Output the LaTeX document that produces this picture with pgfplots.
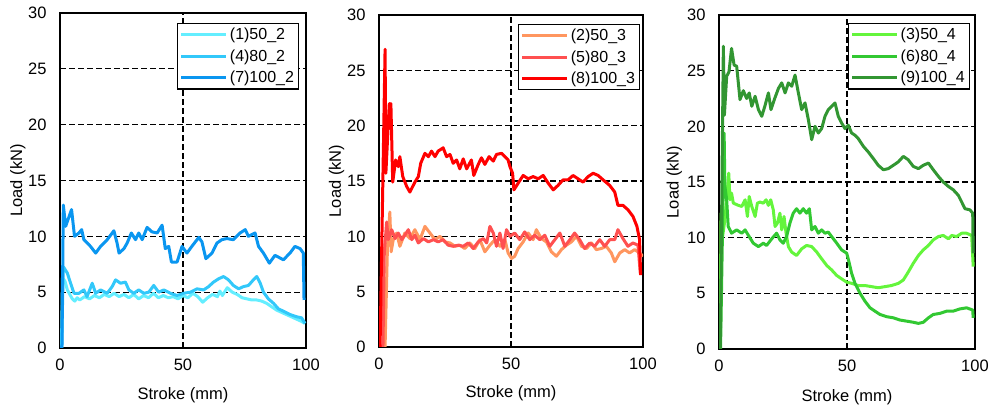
\documentclass[border=0pt]{standalone}
\usepackage{pgfplots}
\pgfplotsset{compat=1.18}
\usepackage{fontspec}
\setmainfont{Liberation Sans}
\definecolor{c1}{RGB}{100,238,255}
\definecolor{c4}{RGB}{50,200,250}
\definecolor{c7}{RGB}{10,150,240}
\definecolor{c2}{RGB}{255,150,95}
\definecolor{c5}{RGB}{255,80,80}
\definecolor{c8}{RGB}{255,0,0}
\definecolor{c3}{RGB}{100,245,60}
\definecolor{c6}{RGB}{50,200,50}
\definecolor{c9}{RGB}{50,150,50}
\pgfplotsset{
 panel/.style={
  scale only axis, anchor=south west,
  xmin=0,xmax=100,ymin=0,ymax=30,
  xtick={0,50,100}, ytick={0,5,...,30},
  grid=major, major grid style={black, line width=1.1bp, dash pattern=on 5.5bp off 3.5bp},
  major tick length=0pt,
  axis line style={black, line width=1.3bp},
  tick label style={font=\fontsize{16.5bp}{19bp}\selectfont},
  /pgf/number format/assume math mode=true,
  xticklabel shift=7bp, yticklabel shift=10bp,
  label style={font=\fontsize{16.5bp}{19bp}\selectfont},
  xlabel={Stroke (mm)}, ylabel={Load (kN)},
  legend style={draw=black, line width=1.3bp, fill=white, font=\fontsize{16bp}{19bp}\selectfont, anchor=north east, inner sep=2.5bp, row sep=4.5bp},
  legend cell align=left,
  legend image code/.code={\draw[##1] (0bp,0bp) -- (45bp,0bp);},
  every axis plot/.append style={line width=3bp, line join=round},
 }
}
\begin{document}
\begin{tikzpicture}
\path[use as bounding box] (0,0) rectangle (992bp,410bp);
% ---------------- Panel 1
\begin{axis}[panel, at={(60bp,62bp)}, width=246bp, height=335bp,
  xlabel style={at={(axis description cs:0.5,-0.140)},anchor=center},
  ylabel style={at={(axis description cs:-0.171,0.5)},anchor=center},
  legend style={at={(0.972,0.970)}}]
\addplot[c1] coordinates {(0,0)(0.6,0)(1,6.3)(2,6.0)(3,5.2)(4,4.8)(5,4.4)(6,4.2)(7,4.5)(8,4.3)(10,4.6)(12,4.4)(14,4.7)(16,4.5)(18,4.8)(20,4.6)(22,4.9)(24,4.6)(26,4.8)(28,4.5)(30,4.8)(32,4.4)(34,4.7)(36,4.5)(38,4.9)(40,4.5)(42,4.7)(44,4.5)(46,4.6)(48,4.4)(50,4.7)(52,4.5)(54,4.9)(56,4.6)(58,4.1)(60,4.5)(62,4.8)(64,4.6)(65,5.1)(66,4.7)(68,5.4)(69,5.2)(70,5.0)(72,4.8)(74,4.5)(76,4.4)(78,4.3)(80,4.3)(82,4.2)(84,4.0)(86,3.7)(88,3.4)(90,3.2)(92,3.0)(94,2.8)(96,2.6)(98,2.4)(99.6,2.2)};
\addlegendentry{(1)50\_2}
\addplot[c4] coordinates {(0,0)(0.7,0)(1.3,7.3)(3,6.7)(4.3,5.8)(5.7,4.9)(7.7,4.9)(9.7,5.2)(11,4.6)(13.1,5.8)(14.5,4.9)(16.5,5.2)(19.2,4.9)(21.2,5.5)(22.6,6.1)(24.6,5.8)(26.6,5.9)(28,5.2)(30,4.9)(32,5.2)(34.1,4.9)(36.1,5.0)(38.1,5.6)(40.1,5.0)(42.2,5.2)(44.9,4.9)(47.6,4.7)(50.3,4.9)(53,5.0)(55.7,5.3)(58.4,5.2)(60.4,5.5)(62.4,5.9)(64.5,6.2)(66.5,6.4)(68.5,6.1)(70.5,5.6)(72.6,5.3)(74.6,5.5)(76.6,5.6)(78.6,6.1)(80,6.4)(81.4,5.8)(82.7,5.0)(84.7,4.4)(86.8,4.0)(88.8,3.5)(90.8,3.3)(93.5,3.0)(96.2,2.8)(98.2,2.7)(99.6,2.2)};
\addlegendentry{(4)80\_2}
\addplot[c7] coordinates {(0,0)(0.8,0)(1.35,12.8)(2.3,10.9)(4.7,12.4)(5.9,10.0)(7.7,10.3)(8.8,10.6)(9.7,9.7)(12.4,9.1)(14.5,8.5)(16.5,9.1)(19.2,9.7)(21.9,10.5)(23.2,9.4)(24,8.5)(26,8.9)(27.3,9.4)(29,10.3)(30.7,9.7)(32,10.3)(33.4,9.7)(35.4,10.8)(37.4,10.4)(39.5,10.3)(41.5,11.0)(42.8,8.9)(44.2,9.1)(45.3,7.7)(47.6,7.7)(49.6,9.1)(51.6,8.5)(53.6,9.1)(56.4,9.9)(57.7,9.5)(59.3,8.0)(61.8,8.5)(63.8,9.4)(65.8,9.7)(67.8,9.8)(70.5,9.7)(73.2,10.3)(75.3,10.6)(76.6,10.0)(79.3,10.3)(80.7,9.1)(82.7,8.5)(85.1,7.6)(87.4,8.3)(90.8,7.9)(93.5,8.5)(95.5,9.1)(97.6,8.9)(98.9,8.5)(99.2,4.3)};
\addlegendentry{(7)100\_2}
\end{axis}
% ---------------- Panel 2
\begin{axis}[panel, at={(379bp,63bp)}, width=264bp, height=332bp,
  xlabel style={at={(axis description cs:0.5,-0.139)},anchor=center},
  ylabel style={at={(axis description cs:-0.161,0.5)},anchor=center},
  legend style={at={(0.989,0.973)}}]
\addplot[c2] coordinates {(0,0)(2.3,0)(3.2,9)(4.1,12.2)(4.6,8.6)(5.4,9.7)(6.7,10.3)(7.9,9.1)(9.8,10.3)(11.7,9.8)(13.6,10.6)(15.5,9.7)(17.4,10.9)(19.3,10.3)(21.2,9.7)(23.1,10.0)(25,9.5)(26.9,9.4)(28.8,9.1)(30.6,9.2)(32.5,8.9)(34.4,9.4)(36.3,8.9)(38.2,9.7)(40.1,8.6)(42,9.2)(43.9,9.7)(45.8,9.1)(47.7,9.7)(48.9,8.5)(50.2,8.0)(51.4,8.2)(52.7,8.9)(54.6,9.5)(56.5,10.3)(58.4,9.7)(59.6,10.6)(61.5,9.8)(63.4,9.5)(65.3,8.6)(67.2,8.2)(69.1,8.8)(71,9.2)(72.9,9.5)(74.8,10.0)(76.7,9.1)(78.6,8.9)(80.5,9.4)(82.3,8.8)(84.2,8.9)(86.1,9.1)(88,8.5)(89.3,7.7)(91.2,8.5)(93.1,8.8)(94.9,8.5)(96.8,8.8)(98.7,8.5)(100,8.2)};
\addlegendentry{(2)50\_3}
\addplot[c5] coordinates {(0,0)(1.5,0)(2,8.5)(2.9,11.3)(3.5,9.7)(4.8,10.6)(6.1,9.8)(7.3,10.3)(8.6,9.7)(9.8,10.1)(11.1,10.6)(12.4,9.7)(13.6,10.1)(14.9,9.4)(16.8,9.8)(18.7,9.5)(20.6,9.7)(22.4,9.5)(24.3,9.7)(26.2,9.2)(28.1,9.1)(30,9.2)(31.9,9.1)(33.8,9.4)(35.7,8.9)(37.6,9.5)(39.5,9.8)(40.8,9.4)(42,10.9)(43.3,10.3)(44.5,9.1)(45.8,10.3)(47,8.9)(48.3,10.6)(49.6,10.0)(51.4,10.3)(53.3,9.7)(55.2,10.4)(57.1,9.7)(59,10.1)(60.9,9.7)(62.8,10.1)(64.7,9.1)(66.6,9.7)(68.5,10.3)(70.4,9.1)(72.3,9.7)(74.1,10.3)(76,9.7)(77.9,8.9)(79.8,9.4)(81.7,9.1)(83.6,9.7)(85.5,9.1)(87.4,9.7)(89.3,9.7)(90.5,10.6)(92.4,9.8)(94.3,9.1)(96.2,9.4)(98.1,9.2)(99,6.6)};
\addlegendentry{(5)80\_3}
\addplot[c8] coordinates {(0,0)(0.4,0)(2.3,26.9)(2.6,15.7)(3.9,22)(3.6,20)(4.5,22)(5.2,14.9)(6.3,16.9)(7.3,16.3)(7.9,17.2)(9,15.4)(10.5,14.5)(11.7,14.0)(13.6,14.9)(14.9,15.4)(15.8,16.6)(17.4,17.5)(18.7,17.2)(19.9,17.7)(21.2,17.2)(22.4,17.7)(24.3,18.0)(25.6,17.2)(26.9,17.4)(28.1,16.6)(29.4,16.9)(30.6,16.1)(31.9,17.0)(33.2,16.1)(35,16.9)(35.9,15.5)(37.6,16.5)(38.8,17.1)(40.1,16.5)(41.7,17.2)(43.3,16.8)(44.5,17.4)(46.4,17.5)(47.7,17.2)(48.9,16.9)(49.6,16.3)(50.6,15.7)(51.1,14.2)(52.7,14.8)(54.6,15.5)(56.5,15.2)(58.4,15.4)(60.3,15.2)(62.2,15.5)(64.1,14.8)(66,14.2)(67.8,14.6)(69.7,15.1)(71.6,15.1)(73.5,15.5)(75.4,15.2)(77.3,14.9)(79.2,15.4)(81.1,15.7)(83,15.5)(84.9,15.1)(87.4,14.6)(89.3,14.0)(90.5,12.8)(92.4,12.8)(94.3,12.4)(96.2,11.8)(97.7,10.9)(98.7,9.7)(99.1,6.5)};
\addlegendentry{(8)100\_3}
\end{axis}
% ---------------- Panel 3
\begin{axis}[panel, at={(719bp,61bp)}, width=256bp, height=334bp,
  xlabel style={at={(axis description cs:0.5,-0.144)},anchor=center},
  ylabel style={at={(axis description cs:-0.174,0.5)},anchor=center},
  legend style={at={(0.98,0.976)}}]
\addplot[c3] coordinates {(0,0)(0.4,0)(0.8,12.2)(1.4,10.1)(2.3,11.6)(3.6,15.2)(3.8,15.8)(4.3,13.4)(4.9,14.0)(5.6,13.1)(7.6,12.9)(8.9,12.8)(10.2,13.4)(11.1,11.9)(11.8,13.7)(12.8,12.8)(14.1,11.9)(15,13.1)(16,13.2)(17.3,13.1)(18.4,13.4)(19.3,12.9)(20.2,13.4)(21.2,12.5)(21.9,11.0)(22.8,11.3)(23.8,12.2)(24.5,10.7)(25.4,11.9)(26.2,10.4)(27.1,9.2)(28.4,8.7)(30.3,8.4)(32.3,9.0)(34.2,9.3)(36.2,9.2)(38.2,8.7)(40.1,8.1)(42.1,7.5)(44,7.1)(46,6.6)(47.9,6.3)(49.9,6.0)(51.8,5.9)(54.4,5.7)(57,5.7)(59.6,5.6)(62.2,5.5)(64.8,5.6)(67.4,5.7)(70.1,5.9)(72,6.2)(73.9,6.9)(75.9,7.7)(77.9,8.4)(79.8,8.9)(81.8,9.3)(83.7,9.8)(85.7,10.1)(87.6,10.2)(89.6,9.9)(90.9,10.2)(92.8,10.1)(94.8,10.4)(96.7,10.4)(98.7,10.2)(99.3,7.4)};
\addlegendentry{(3)50\_4}
\addplot[c6] coordinates {(0,0)(0.6,0)(2,19.4)(2.3,14.6)(3,13.4)(3.6,11.0)(4.9,10.4)(6.9,10.7)(8.9,10.4)(10.2,10.7)(11.5,10.2)(13.4,9.5)(15.4,9.2)(17.3,9.5)(18.6,9.3)(20.6,9.9)(22.5,10.4)(23.8,9.8)(25.1,9.5)(26.4,10.1)(27.7,11.3)(29,12.2)(30.3,12.6)(31.6,12.2)(32.9,12.6)(34.2,12.2)(35.3,12.6)(36.2,10.7)(37.5,11.0)(38.8,10.4)(40.1,10.7)(41.4,10.4)(42.7,10.5)(44,10.1)(46,9.5)(47.9,8.9)(49.9,8.6)(50.9,7.7)(51.8,6.8)(53.1,5.9)(55.1,5.0)(57,4.3)(59,3.7)(60.9,3.4)(62.9,3.1)(65.5,2.9)(68.1,2.8)(70.7,2.6)(73.3,2.5)(75.9,2.4)(77.9,2.3)(79.8,2.4)(81.8,2.8)(83.7,3.1)(86.3,3.2)(88.9,3.4)(91.5,3.4)(94.1,3.6)(96.7,3.7)(99.1,3.5)(99.3,2.8)};
\addlegendentry{(6)80\_4}
\addplot[c9] coordinates {(0,0)(0.5,0)(1.7,27.2)(2.1,21)(3,24.5)(3.9,24.9)(4.9,27.0)(5.9,25.5)(6.9,25.4)(8.2,22.4)(9.5,23.2)(10.8,22.5)(11.8,23.0)(12.8,21.8)(14.1,22.7)(15.4,21.5)(16.7,20.9)(17.9,21.8)(19.3,23.0)(20.3,21.5)(21.6,22.4)(23.2,23.4)(24.5,23.9)(25.8,23.0)(27.1,23.9)(28.4,23.6)(29.7,24.6)(31,23.0)(32.3,21.5)(33.6,22.1)(34.9,20.6)(36.2,18.8)(37.5,20.0)(38.8,19.4)(40.1,19.8)(41.4,20.9)(42.7,21.5)(44,21.8)(45.3,22.1)(46.6,20.9)(47.9,20.3)(49.2,19.8)(50.5,20.1)(51.8,19.4)(53.1,19.2)(54.4,18.9)(56.4,18.2)(58.3,17.7)(60.3,17.1)(62.2,16.5)(64.2,16.1)(66.1,16.2)(68.1,16.5)(70,16.8)(72,17.3)(73.9,17.0)(75.9,16.4)(77.9,16.2)(79.8,16.5)(81.8,16.7)(83.7,16.1)(85.7,15.5)(87.6,15.0)(89.6,14.6)(91.5,14.3)(93.5,13.8)(94.8,13.2)(96.1,12.6)(98,12.5)(99.1,12.2)(99.3,8.6)};
\addlegendentry{(9)100\_4}
\end{axis}
\end{tikzpicture}
\end{document}
